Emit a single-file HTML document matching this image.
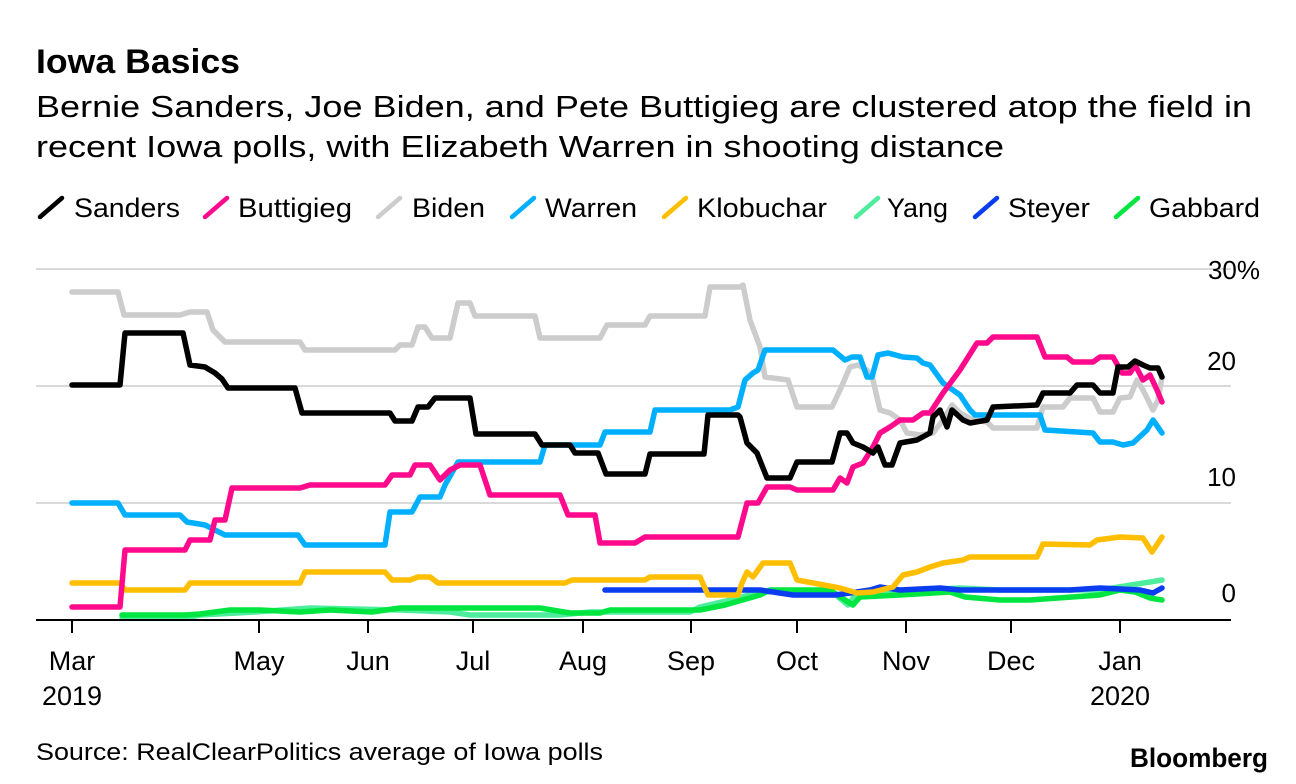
<!DOCTYPE html>
<html><head><meta charset="utf-8"><style>
body{margin:0;background:#fff;width:1296px;height:784px;overflow:hidden;font-family:"Liberation Sans",sans-serif;color:#000}
svg{position:absolute;left:0;top:0}
</style></head><body>
<svg width="1296" height="784" viewBox="0 0 1296 784" font-family="Liberation Sans, sans-serif">
<text x="36" y="73" font-size="34" font-weight="bold" textLength="204" lengthAdjust="spacingAndGlyphs">Iowa Basics</text>
<text x="36" y="117" font-size="31" textLength="1216" lengthAdjust="spacingAndGlyphs">Bernie Sanders, Joe Biden, and Pete Buttigieg are clustered atop the field in</text>
<text x="36" y="157" font-size="31" textLength="968" lengthAdjust="spacingAndGlyphs">recent Iowa polls, with Elizabeth Warren in shooting distance</text>
<g font-size="27" stroke-linecap="round">
<line x1="40" y1="217" x2="62" y2="198" stroke="#000" stroke-width="4.5"/><text x="74" y="217" textLength="106" lengthAdjust="spacingAndGlyphs">Sanders</text>
<line x1="205" y1="217" x2="227" y2="198" stroke="#ff0a8c" stroke-width="4.5"/><text x="238" y="217" textLength="114" lengthAdjust="spacingAndGlyphs">Buttigieg</text>
<line x1="378" y1="217" x2="400" y2="198" stroke="#cccccc" stroke-width="4.5"/><text x="412" y="217" textLength="73" lengthAdjust="spacingAndGlyphs">Biden</text>
<line x1="512" y1="217" x2="534" y2="198" stroke="#00b0ff" stroke-width="4.5"/><text x="545" y="217" textLength="92" lengthAdjust="spacingAndGlyphs">Warren</text>
<line x1="664" y1="217" x2="686" y2="198" stroke="#ffbf00" stroke-width="4.5"/><text x="697" y="217" textLength="130" lengthAdjust="spacingAndGlyphs">Klobuchar</text>
<line x1="856" y1="217" x2="878" y2="198" stroke="#4ded9d" stroke-width="4.5"/><text x="887" y="217" textLength="61" lengthAdjust="spacingAndGlyphs">Yang</text>
<line x1="975" y1="217" x2="997" y2="198" stroke="#0a3cf0" stroke-width="4.5"/><text x="1008" y="217" textLength="82" lengthAdjust="spacingAndGlyphs">Steyer</text>
<line x1="1116" y1="217" x2="1138" y2="198" stroke="#00e640" stroke-width="4.5"/><text x="1149" y="217" textLength="111" lengthAdjust="spacingAndGlyphs">Gabbard</text>
</g>
<g stroke="#d9d9d9" stroke-width="2">
<line x1="36" y1="269" x2="1231" y2="269"/><line x1="36" y1="386" x2="1231" y2="386"/><line x1="36" y1="503" x2="1231" y2="503"/>
</g>
<g font-size="26" text-anchor="end">
<text x="1260" y="279">30%</text><text x="1236" y="370">20</text><text x="1236" y="486">10</text><text x="1236" y="602">0</text>
</g>
<g fill="none" stroke-width="5.5" stroke-linejoin="round" stroke-linecap="round">
<polyline stroke="#4ded9d" points="122,618 185,618 200,615 255,612 310,608 400,610 450,612 470,615 560,615 590,612 690,612 700,607 730,600 760,592 830,590 848,605 855,595 890,592 920,590 960,588 1000,590 1100,590 1150,582 1162,580"/>
<polyline stroke="#00e640" points="122,615 185,615 200,614 230,610 260,610 300,612 330,610 372,612 400,608 540,608 570,613 600,613 610,610 700,610 725,605 760,595 770,590 830,590 845,600 853,605 860,597 900,595 950,592 965,597 1000,600 1030,600 1100,595 1120,590 1135,592 1150,598 1162,600"/>
<polyline stroke="#0a3cf0" points="605,590 740,590 760,590 793,595 835,595 850,593 870,590 880,587 900,590 940,588 960,590 1070,590 1100,588 1140,590 1153,593 1162,588"/>
<polyline stroke="#ffbf00" points="72,583 120,583 125,590 185,590 190,583 300,583 305,572 385,572 392,580 410,580 418,577 430,577 438,583 565,583 572,580 645,580 650,577 700,577 708,595 738,595 742,583 747,572 753,577 763,563 790,563 797,580 840,588 857,593 873,592 893,587 903,575 917,572 930,567 943,563 963,560 970,557 1037,557 1043,544 1090,545 1097,540 1120,537 1143,538 1152,552 1162,537"/>
<polyline stroke="#cccccc" points="72,292 118,292 124,315 180,315 190,312 207,312 213,330 225,342 300,342 305,350 395,350 400,345 412,345 418,327 425,327 432,338 450,338 458,303 470,303 475,316 535,316 540,338 600,338 607,325 645,325 650,316 705,316 710,287 740,287 743,285 750,320 760,347 765,377 788,380 797,407 832,407 840,390 850,367 858,365 867,370 873,380 880,410 890,413 900,420 907,433 920,435 933,433 943,420 952,405 960,413 973,420 987,422 993,428 1037,428 1043,407 1063,407 1070,398 1093,398 1100,412 1113,412 1120,398 1130,397 1137,380 1143,390 1153,410 1158,400 1162,377"/>
<polyline stroke="#00b0ff" points="72,503 118,503 125,515 180,515 187,522 205,525 225,535 298,535 305,545 385,545 390,512 412,512 420,497 440,497 445,485 458,462 540,462 545,445 600,445 605,432 650,432 655,410 730,410 738,407 745,380 753,373 758,370 765,350 833,350 845,360 852,357 860,357 867,377 872,377 878,355 888,353 903,357 917,358 923,363 930,365 943,383 960,395 970,410 975,415 1040,415 1045,430 1093,433 1100,442 1113,442 1123,445 1133,443 1147,430 1153,420 1162,433"/>
<polyline stroke="#ff0a8c" points="72,607 120,607 125,550 185,550 190,540 210,540 215,520 225,520 232,488 300,488 310,485 385,485 392,475 410,475 415,465 430,465 440,480 450,470 460,465 480,465 490,495 560,495 568,515 595,515 600,543 635,543 645,537 738,537 747,503 758,503 767,487 790,487 797,490 833,490 840,478 847,483 853,467 863,463 873,447 880,433 890,427 900,420 913,420 923,413 930,413 943,393 960,370 977,343 987,343 993,337 1037,337 1045,357 1067,357 1073,362 1093,362 1100,357 1113,357 1122,373 1130,373 1135,365 1143,380 1150,375 1157,390 1162,402"/>
<polyline stroke="#000" points="72,385 120,385 125,333 183,333 190,365 205,367 215,373 222,379 228,388 295,388 302,413 390,413 395,421 412,421 418,407 428,407 435,398 470,398 476,434 535,434 542,445 570,445 575,453 598,453 606,474 645,474 650,454 704,454 708,415 738,415 740,417 747,443 757,453 767,478 790,478 797,462 832,462 840,433 847,433 853,443 863,447 873,453 878,447 885,465 892,465 900,443 917,440 930,433 933,417 940,410 947,427 952,410 963,420 970,423 987,420 993,407 1037,405 1043,393 1070,393 1077,385 1093,385 1100,393 1113,393 1118,367 1128,367 1135,361 1143,365 1150,368 1158,368 1162,377"/>
</g>
<line x1="36" y1="620" x2="1231" y2="620" stroke="#000" stroke-width="2"/>
<g stroke="#000" stroke-width="2">
<line x1="72" y1="620" x2="72" y2="633"/><line x1="259" y1="620" x2="259" y2="633"/><line x1="368" y1="620" x2="368" y2="633"/><line x1="473" y1="620" x2="473" y2="633"/><line x1="583" y1="620" x2="583" y2="633"/><line x1="691" y1="620" x2="691" y2="633"/><line x1="797" y1="620" x2="797" y2="633"/><line x1="906" y1="620" x2="906" y2="633"/><line x1="1011" y1="620" x2="1011" y2="633"/><line x1="1120" y1="620" x2="1120" y2="633"/>
</g>
<g font-size="27" text-anchor="middle">
<text x="72" y="670">Mar</text><text x="72" y="705">2019</text><text x="259" y="670">May</text><text x="368" y="670">Jun</text><text x="473" y="670">Jul</text><text x="583" y="670">Aug</text><text x="691" y="670">Sep</text><text x="797" y="670">Oct</text><text x="906" y="670">Nov</text><text x="1011" y="670">Dec</text><text x="1120" y="670">Jan</text><text x="1120" y="705">2020</text>
</g>
<text x="36" y="760" font-size="24" textLength="567" lengthAdjust="spacingAndGlyphs">Source: RealClearPolitics average of Iowa polls</text>
<text x="1130" y="767" font-size="27" font-weight="bold" textLength="138" lengthAdjust="spacingAndGlyphs">Bloomberg</text>
</svg>
</body></html>
